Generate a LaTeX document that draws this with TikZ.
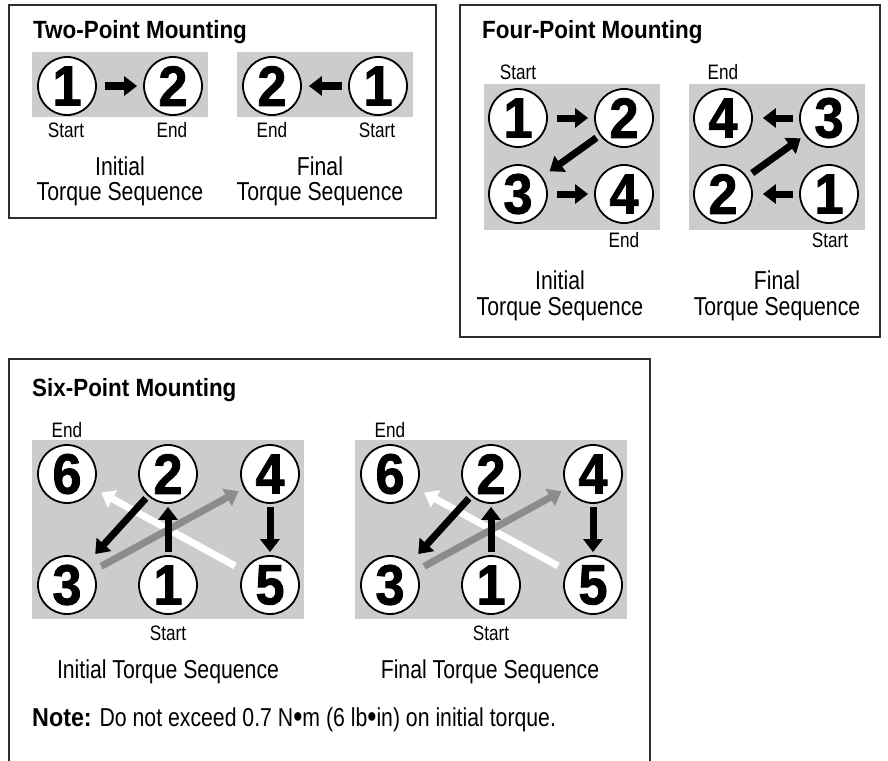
\documentclass[tikz,border=0pt]{standalone}
\usepackage{fontspec}
\setmainfont{Liberation Sans}[FakeStretch=0.82]
\newfontfamily\labfont{Liberation Sans}[FakeStretch=0.82]
\newfontfamily\digfont{Liberation Sans}[FakeBold=1.5,FakeStretch=0.92]
\newfontfamily\ttlfont{Liberation Sans}[FakeStretch=0.9]
\usetikzlibrary{arrows.meta}
\definecolor{panelgray}{RGB}{204,204,204}
\definecolor{midgray}{RGB}{140,140,140}
\definecolor{boxline}{RGB}{45,45,45}
\newcommand{\bigdot}{\raisebox{-1.5bp}{\fontsize{32}{32}\selectfont •}}
\tikzset{
  frame/.style={draw=boxline, line width=1.5bp},
  panel/.style={fill=panelgray},
  bolt/.style={circle, draw=black, line width=1.8bp, fill=white, minimum size=58bp,
    inner sep=0pt, font=\digfont\bfseries\fontsize{57}{57}\selectfont},
  seq/.style={-{Triangle[width=19bp,length=13bp]}, line width=7bp, draw=black},
  seqgray/.style={seq, draw=midgray},
  seqwhite/.style={seq, draw=white},
  ttl/.style={anchor=base west, inner sep=0pt, font=\ttlfont\bfseries\fontsize{25}{25}\selectfont},
  lab/.style={anchor=base, inner sep=0pt, font=\labfont\fontsize{21}{21}\selectfont},
  captext/.style={anchor=base, inner sep=0pt, font=\fontsize{26}{26}\selectfont},
}
\begin{document}
\begin{tikzpicture}[x=1bp, y=-1bp]
\useasboundingbox (0,0) rectangle (888,761);

% ---------- Two-point mounting ----------
\draw[frame] (9,5) rectangle (436,218);
\node[ttl] (t2) at (33,39) {Two-Point Mounting};
\fill[panel] (32,52) rectangle (208,117);
\fill[panel] (237,52) rectangle (413,117);
\node[bolt] (a1) at (67,86) {1};
\node[bolt] (a2) at (173,86) {2};
\draw[seq, shorten <=8bp, shorten >=6bp] (a1) -- (a2);
\node[bolt] (b2) at (272,86) {2};
\node[bolt] (b1) at (378,86) {1};
\draw[seq, shorten <=6bp, shorten >=7bp] (b1) -- (b2);
\node[lab] (a1s) at (66,137) {Start};
\node[lab] (a2e) at (172,137) {End};
\node[lab] (b2e) at (272,137) {End};
\node[lab] (b1s) at (377,137) {Start};
\node[captext] (ai) at (120,175) {Initial};
\node[captext] (at) at (120,200) {Torque Sequence};
\node[captext] (bf) at (320,175) {Final};
\node[captext] (bt) at (320,200) {Torque Sequence};

% ---------- Four-point mounting ----------
\draw[frame] (460,5) rectangle (880,337);
\node[ttl] (t4) at (482,39) {Four-Point Mounting};
\fill[panel] (484,84) rectangle (660,230);
\fill[panel] (689,84) rectangle (865,230);
\node[bolt] (c1) at (518,118) {1};
\node[bolt] (c2) at (624,118) {2};
\node[bolt] (c3) at (518,194) {3};
\node[bolt] (c4) at (624,194) {4};
\draw[seq, shorten <=9bp, shorten >=6bp] (c1) -- (c2);
\draw[seq, shorten <=4bp, shorten >=9bp] (c2) -- (c3);
\draw[seq, shorten <=9bp, shorten >=6bp] (c3) -- (c4);
\node[bolt] (d4) at (723,118) {4};
\node[bolt] (d3) at (829,118) {3};
\node[bolt] (d2) at (723,194) {2};
\node[bolt] (d1) at (829,194) {1};
\draw[seq, shorten <=6bp, shorten >=10bp] (d1) -- (d2);
\draw[seq, shorten <=6bp, shorten >=5bp] (d2) -- (d3);
\draw[seq, shorten <=6bp, shorten >=10bp] (d3) -- (d4);
\node[lab] (c1s) at (518,80) {Start};
\node[lab] (c4e) at (624,247) {End};
\node[lab] (d4e) at (723,80) {End};
\node[lab] (d1s) at (830,247) {Start};
\node[captext] (ci) at (560,289) {Initial};
\node[captext] (ct) at (560,315) {Torque Sequence};
\node[captext] (df) at (777,289) {Final};
\node[captext] (dt) at (777,315) {Torque Sequence};

% ---------- Six-point mounting ----------
\draw[frame] (9,761) -- (9,359) -- (650,359) -- (650,761);
\node[ttl] (t6) at (32,396) {Six-Point Mounting};
\foreach \p/\dx in {e/0, f/323} {
  \fill[panel] (32+\dx,440) rectangle (304+\dx,619);
  \node[bolt] (\p6) at (67+\dx,474) {6};
  \node[bolt] (\p2) at (168+\dx,474) {2};
  \node[bolt] (\p4) at (270+\dx,474) {4};
  \node[bolt] (\p3) at (67+\dx,585) {3};
  \node[bolt] (\p1) at (168+\dx,585) {1};
  \node[bolt] (\p5) at (270+\dx,585) {5};
  \draw[seqwhite, shorten <=10bp, shorten >=9bp] (\p5) -- (\p6);
  \draw[seqgray, shorten <=9bp, shorten >=6bp] (\p3) -- (\p4);
  \draw[seq, shorten <=3bp, shorten >=3bp] (\p1) -- (\p2);
  \draw[seq, shorten <=3bp, shorten >=12bp] (\p2) -- (\p3);
  \draw[seq, shorten <=3bp, shorten >=3bp] (\p4) -- (\p5);
  \node[lab] (\p6e) at (67+\dx,437) {End};
  \node[lab] (\p1s) at (168+\dx,640) {Start};
}
\node[captext] (ei) at (168,678) {Initial Torque Sequence};
\node[captext] (fi) at (490,678) {Final Torque Sequence};
\node[anchor=base west, inner sep=0pt, font=\fontsize{26}{26}\selectfont] (note) at (32,726)
  {{\ttlfont\bfseries Note:} Do not exceed 0.7 N\bigdot m (6 lb\bigdot in) on initial torque.};
\end{tikzpicture}
\end{document}
